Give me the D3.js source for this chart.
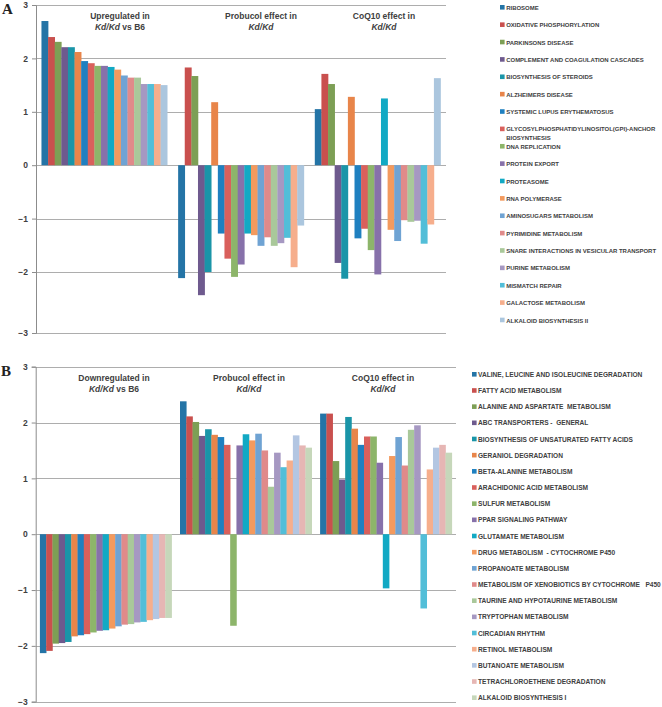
<!DOCTYPE html>
<html><head><meta charset="utf-8">
<script src="https://cdn.jsdelivr.net/npm/d3@7"></script>
<style>body{margin:0;background:#fff}svg{display:block}</style>
</head><body>
<svg id="chart" width="662" height="707"></svg>
<script>
// ---------- DATA ----------
const groupsA = ["up", "probucol", "coq10"];
const seriesA = ["RIBOSOME","OXIDATIVE PHOSPHORYLATION","PARKINSONS DISEASE","COMPLEMENT AND COAGULATION CASCADES","BIOSYNTHESIS OF STEROIDS","ALZHEIMERS DISEASE","SYSTEMIC LUPUS ERYTHEMATOSUS","GLYCOSYLPHOSPHATIDYLINOSITOL(GPI)-ANCHOR|BIOSYNTHESIS","DNA REPLICATION","PROTEIN EXPORT","PROTEASOME","RNA POLYMERASE","AMINOSUGARS METABOLISM","PYRIMIDINE METABOLISM","SNARE INTERACTIONS IN VESICULAR TRANSPORT","PURINE METABOLISM","MISMATCH REPAIR","GALACTOSE METABOLISM","ALKALOID BIOSYNTHESIS II"];
const colorsA = ["#2474A6","#C9504E","#7D9F55","#6E5A8E","#1A95A8","#E8854A","#1F80C0","#D9605C","#8DB56A","#8771AA","#12A9C4","#F39A5E","#6FA3D3","#E08A8A","#A9C89A","#A698C2","#52BED8","#F6AE8C","#ABC6DE"];
const upA    = [2.70,2.40,2.31,2.21,2.21,2.12,1.95,1.91,1.86,1.86,1.84,1.79,1.68,1.64,1.64,1.52,1.52,1.52,1.50];
const probA  = [-2.10,1.83,1.67,-2.38,-2.00,1.18,-1.28,-1.75,-2.08,-1.86,-1.28,-1.31,-1.51,-1.35,-1.51,-1.46,-1.36,-1.91,-1.13];
const coqA   = [1.05,1.71,1.52,-1.83,-2.11,1.28,-1.37,-1.19,-1.59,-2.04,1.25,-1.21,-1.42,-1.03,-1.06,-1.04,-1.47,-1.11,1.63];

const groupsB = ["down", "probucol", "coq10"];
const seriesB = ["VALINE, LEUCINE AND ISOLEUCINE DEGRADATION","FATTY ACID METABOLISM","ALANINE AND ASPARTATE  METABOLISM","ABC TRANSPORTERS -  GENERAL","BIOSYNTHESIS OF UNSATURATED FATTY ACIDS","GERANIOL DEGRADATION","BETA-ALANINE METABOLISM","ARACHIDONIC ACID METABOLISM","SULFUR METABOLISM","PPAR SIGNALING PATHWAY","GLUTAMATE METABOLISM","DRUG METABOLISM  - CYTOCHROME P450","PROPANOATE METABOLISM","METABOLISM OF XENOBIOTICS BY CYTOCHROME   P450","TAURINE AND HYPOTAURINE METABOLISM","TRYPTOPHAN METABOLISM","CIRCADIAN RHYTHM","RETINOL METABOLISM","BUTANOATE METABOLISM","TETRACHLOROETHENE DEGRADATION","ALKALOID BIOSYNTHESIS I"];
const colorsB = ["#2474A6","#C9504E","#7D9F55","#6E5A8E","#1A95A8","#E8854A","#1F80C0","#D9605C","#8DB56A","#8771AA","#12A9C4","#F39A5E","#6FA3D3","#E08A8A","#A9C89A","#A698C2","#52BED8","#F6AE8C","#B3C6E2","#E6B6B4","#C6D7BA"];
const downB  = [-2.13,-2.09,-1.96,-1.95,-1.93,-1.83,-1.81,-1.79,-1.76,-1.73,-1.72,-1.69,-1.65,-1.62,-1.61,-1.58,-1.57,-1.54,-1.52,-1.50,-1.50];
const probB  = [2.38,2.11,2.01,1.76,1.88,1.78,1.74,1.60,-1.64,1.59,1.79,1.68,1.80,1.50,0.85,1.46,1.20,1.32,1.77,1.59,1.55];
const coqB   = [2.16,2.16,1.31,0.98,2.10,1.89,1.60,1.75,1.75,1.28,-0.97,1.40,1.74,1.23,1.87,1.95,-1.33,1.16,1.55,1.60,1.46];

const yTicks = [3,2,1,0,-1,-2,-3];

const titlesA = [
  {l1:"Upregulated in", l2:[["Kd/Kd",true],[" vs B6",false]], x:120, y:15.7},
  {l1:"Probucol effect in", l2:[["Kd/Kd",true]], x:261, y:15.7},
  {l1:"CoQ10 effect in", l2:[["Kd/Kd",true]], x:384, y:15.7}
];
const titlesB = [
  {l1:"Downregulated in", l2:[["Kd/Kd",true],[" vs B6",false]], x:114, y:377.7},
  {l1:"Probucol  effect in", l2:[["Kd/Kd",true]], x:249, y:377.7},
  {l1:"CoQ10 effect in", l2:[["Kd/Kd",true]], x:383, y:377.7}
];

// ---------- DRAW ----------
const svg = d3.select("#chart");
const FONT = "'Liberation Sans', Arial, sans-serif";
const LFONT = "'Liberation Sans Narrow', 'Arial Narrow', 'Liberation Sans', sans-serif";
const TXT = "#404040";

function panel(cfg){
  const g = svg.append("g");
  const y = d3.scaleLinear().domain(cfg.yDomain).range(cfg.yRange);
  const x0 = d3.scaleBand().domain(cfg.groups).range([cfg.left, cfg.right]).paddingInner(cfg.pi).paddingOuter(cfg.pi/2);
  const x1 = d3.scaleBand().domain(d3.range(cfg.series.length)).range([0, x0.bandwidth()]);

  // gridlines
  g.append("g").selectAll("line").data(yTicks).join("line")
    .attr("x1", cfg.left).attr("x2", cfg.gridRight)
    .attr("y1", d=>Math.round(y(d))+0.5).attr("y2", d=>Math.round(y(d))+0.5)
    .attr("stroke", "#ADADAD").attr("stroke-width", 1);

  // axis
  const ax = g.append("g").attr("transform", `translate(${cfg.left},0)`)
    .call(d3.axisLeft(y).tickValues(yTicks).tickSize(4).tickPadding(4).tickFormat(d3.format("d")));
  ax.select(".domain").attr("stroke", "#8C8C8C");
  ax.selectAll(".tick line").attr("stroke", "#8C8C8C");
  ax.selectAll(".tick text").attr("font-family", FONT).attr("font-size", 8.5).attr("font-weight", "bold").attr("fill", TXT);

  // bars
  const data = [];
  cfg.groups.forEach((grp, gi) => {
    cfg.values[gi].forEach((v, si) => data.push({grp, si, v}));
  });
  g.append("g").selectAll("rect").data(data).join("rect")
    .attr("x", d => x0(d.grp) + x1(d.si))
    .attr("width", x1.bandwidth() + 0.3)
    .attr("y", d => Math.min(y(d.v), y(0)))
    .attr("height", d => Math.abs(y(d.v) - y(0)))
    .attr("fill", d => cfg.colors[d.si]);

  // group titles
  cfg.titles.forEach(t => {
    g.append("text").attr("x", t.x).attr("y", t.y + 3).attr("text-anchor", "middle")
      .attr("font-family", FONT).attr("font-size", 8.5).attr("fill", TXT).attr("font-weight","bold").text(t.l1);
    const t2 = g.append("text").attr("x", t.x).attr("y", t.y + 14).attr("text-anchor", "middle")
      .attr("font-family", FONT).attr("font-size", 8.5).attr("fill", TXT).attr("font-weight","bold");
    t.l2.forEach(p => t2.append("tspan").attr("font-style", p[1] ? "italic" : "normal").text(p[0]));
  });

  // panel letter
  g.append("text").attr("x", cfg.letterX).attr("y", cfg.letterY)
    .attr("font-family", "'Liberation Serif', 'Times New Roman', serif").attr("font-weight", "bold")
    .attr("font-size", 15).attr("fill", "#222").text(cfg.letter);

  // legend
  const lg = g.append("g");
  const rows = lg.selectAll("g").data(cfg.series).join("g")
    .attr("transform", (d,i) => `translate(${cfg.legX},${cfg.legY + i*cfg.legStep})`);
  rows.append("rect").attr("x", 0).attr("y", -2.3).attr("width", 4.6).attr("height", 4.6).attr("fill", (d,i)=>cfg.colors[i]);
  const lt = rows.append("text").attr("x", cfg.legTextDx).attr("y", 2.6)
    .attr("font-family", LFONT).attr("font-weight", "bold").attr("font-size", 6).attr("fill", TXT)
    .attr("xml:space","preserve");
  lt.each(function(d){
    const parts = d.split("|");
    const el = d3.select(this);
    parts.forEach((p, k) => el.append("tspan").attr("x", cfg.legTextDx).attr("dy", k ? 8.7 : 0).text(p));
  });
  // fit font size to target width of a reference label
  const ref = lt.filter(d => d === cfg.refLabel).node();
  const w = ref.getComputedTextLength();
  const fs = Math.min(7.4, 6 * cfg.refWidth / w);
  lt.attr("font-size", fs);
}

panel({
  letter:"A", letterX:2, letterY:14,
  groups: groupsA, series: seriesA, colors: colorsA, values:[upA, probA, coqA],
  yDomain:[-3,-2,3], yRange:[333,272,5],
  left:36, right:446, gridRight:446, pi:0.08,
  titles: titlesA,
  legX:500, legY:7.3, legStep:17.37, legTextDx:6.2,
  refLabel:"SNARE INTERACTIONS IN VESICULAR TRANSPORT", refWidth:150
});

panel({
  letter:"B", letterX:1, letterY:376,
  groups: groupsB, series: seriesB, colors: colorsB, values:[downB, probB, coqB],
  yDomain:[-3,3], yRange:[701.7,366.7],
  left:35.7, right:456, gridRight:456, pi:0.06,
  titles: titlesB,
  legX:472, legY:374.3, legStep:16.17, legTextDx:6.0,
  refLabel:"VALINE, LEUCINE AND ISOLEUCINE DEGRADATION", refWidth:164.7
});
</script>
</body></html>
